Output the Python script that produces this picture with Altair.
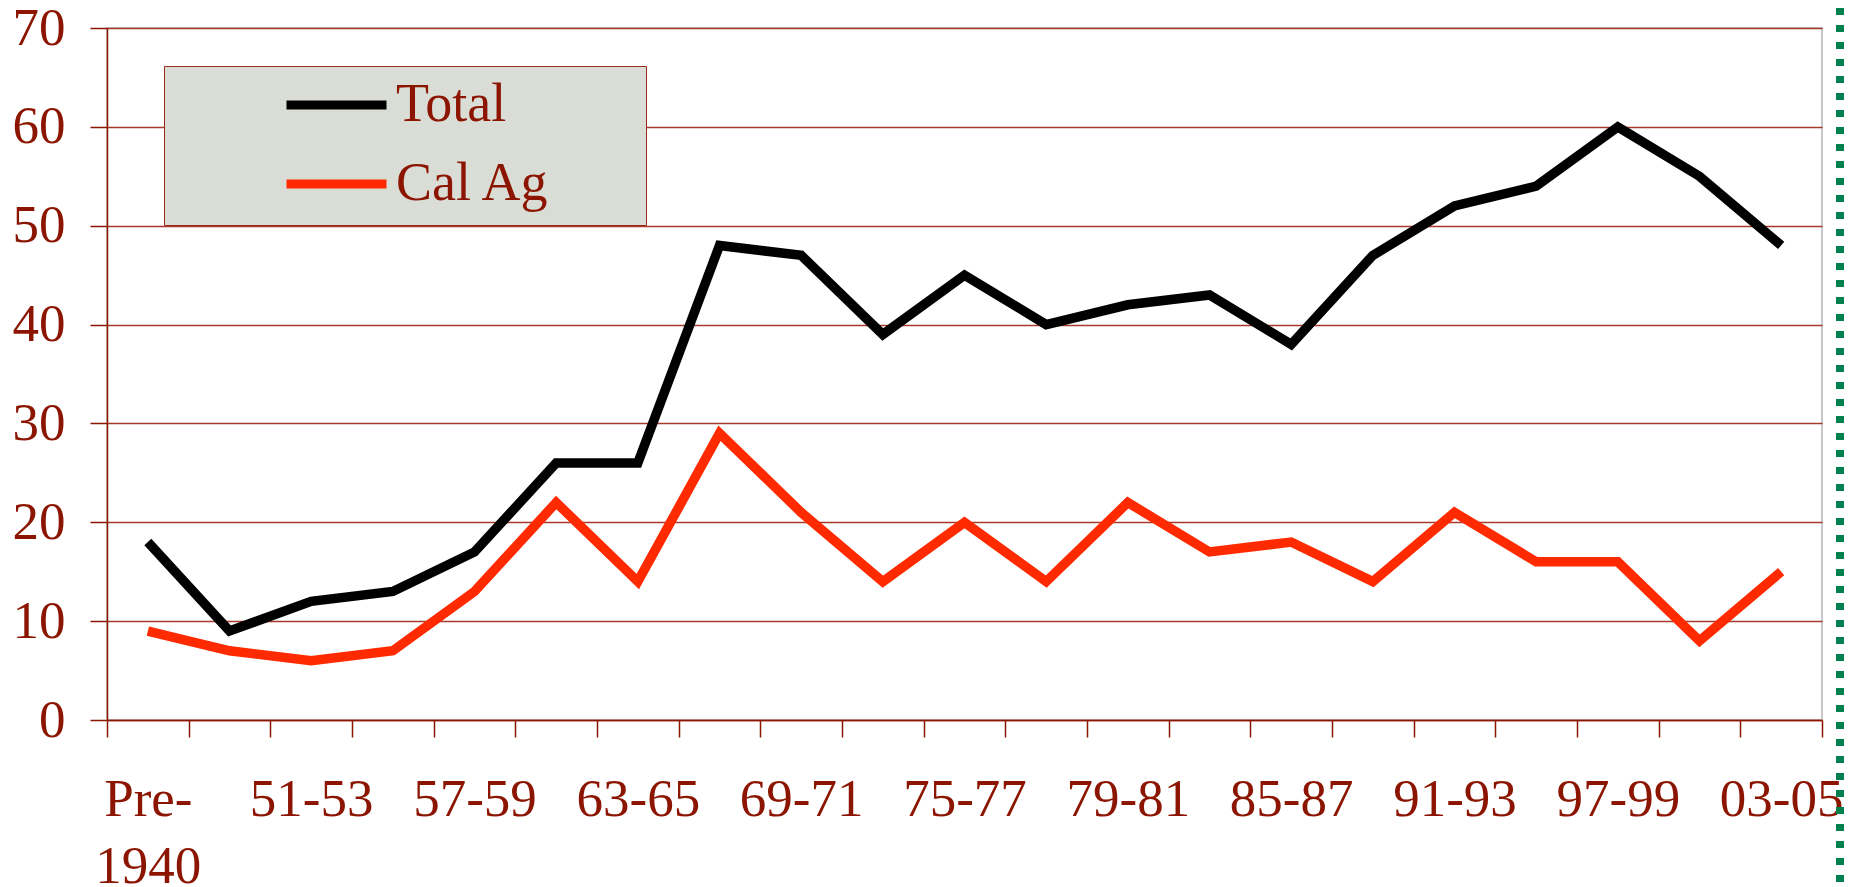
import json
import altair as alt
import pandas as pd

# ---- data ----
categories = ["Pre-1940", "48-50", "51-53", "54-56", "57-59", "60-62", "63-65",
              "66-68", "69-71", "72-74", "75-77", "78", "79-81", "82-84",
              "85-87", "88-90", "91-93", "94-96", "97-99", "00-02", "03-05"]
total = [18, 9, 12, 13, 17, 26, 26, 48, 47, 39, 45, 40, 42, 43, 38, 47, 52, 54, 60, 55, 48]
cal_ag = [9, 7, 6, 7, 13, 22, 14, 29, 21, 14, 20, 14, 22, 17, 18, 14, 21, 16, 16, 8, 15]
shown_labels = ["51-53", "57-59", "63-65", "69-71", "75-77", "79-81",
                "85-87", "91-93", "97-99", "03-05"]
y_ticks = [0, 10, 20, 30, 40, 50, 60, 70]
series_names = ["Total", "Cal Ag"]
series_colors = ["#000000", "#ff2a00"]

rows = []
for name, vals in zip(series_names, [total, cal_ag]):
    for c, v in zip(categories, vals):
        rows.append({"period": c, "series": name, "value": v})
df = pd.DataFrame(rows)

W, H = 1715, 692
TEXT = "#8b1500"
GRID = "#a83a2c"
FONT = "Liberation Serif"
FS = 53

label_expr = ("datum.value == 'Pre-1940' ? ['Pre-', '1940'] : "
              "(indexof(%s, datum.value) >= 0 ? datum.value : '')" % json.dumps(shown_labels))

# trailing non-breaking spaces (closed by a zero-width space so they are kept) widen the legend box
legend_expr = "datum.label + '" + "\u00a0" * 6 + "\u200b'"

lines = alt.Chart(df).mark_line(strokeWidth=9.5, strokeJoin="miter", strokeCap="butt").encode(
    x=alt.X("period:N", sort=categories, bandPosition=0.5,
            scale=alt.Scale(type="band", paddingInner=0, paddingOuter=0),
            axis=alt.Axis(title=None, labelExpr=label_expr, tickBand="extent",
                          labelAngle=0, labelOverlap=False, labelFont=FONT,
                          labelFontSize=FS, labelColor=TEXT, labelPadding=36,
                          labelLineHeight=67, labelBaseline="top",
                          tickSize=17, tickColor=TEXT, tickWidth=1.5,
                          domainColor=TEXT, domainWidth=1.5, grid=False)),
    y=alt.Y("value:Q", scale=alt.Scale(domain=[0, 70], nice=False),
            axis=alt.Axis(title=None, values=y_ticks, grid=True, gridColor=GRID,
                          gridWidth=1.5, labelFont=FONT, labelFontSize=FS,
                          labelColor=TEXT, labelPadding=25, tickSize=17,
                          tickColor=TEXT, tickWidth=1.5, domainColor=TEXT,
                          domainWidth=1.5, labelOverlap=False)),
    color=alt.Color("series:N", sort=series_names,
                    scale=alt.Scale(domain=series_names, range=series_colors),
                    legend=alt.Legend(orient="none", legendX=57, legendY=38, title=None,
                                      symbolType="stroke", symbolSize=10000,
                                      symbolStrokeWidth=9, symbolOffset=104,
                                      labelOffset=5, clipHeight=50, rowPadding=25,
                                      padding=14, labelFont=FONT, labelFontSize=54,
                                      labelColor=TEXT, fillColor="#d9ddd6",
                                      strokeColor="#9a2a1a", labelLimit=600,
                                      labelExpr=legend_expr)),
)

green = alt.Chart(pd.DataFrame({"k": [0]})).mark_rule(
    color="#00804f", strokeWidth=8, strokeDash=[7, 10]
).encode(x=alt.value(1733), y=alt.value(-20), y2=alt.value(H + 180))

chart = alt.layer(lines, green).properties(
    width=W, height=H,
    autosize=alt.AutoSizeParams(type="none"),
    padding={"left": 99, "top": 20, "right": 28, "bottom": 170},
).configure_view(stroke="#c8c8c8", strokeWidth=2)

chart.save("out.html", embed_options={"renderer": "svg", "actions": False})
